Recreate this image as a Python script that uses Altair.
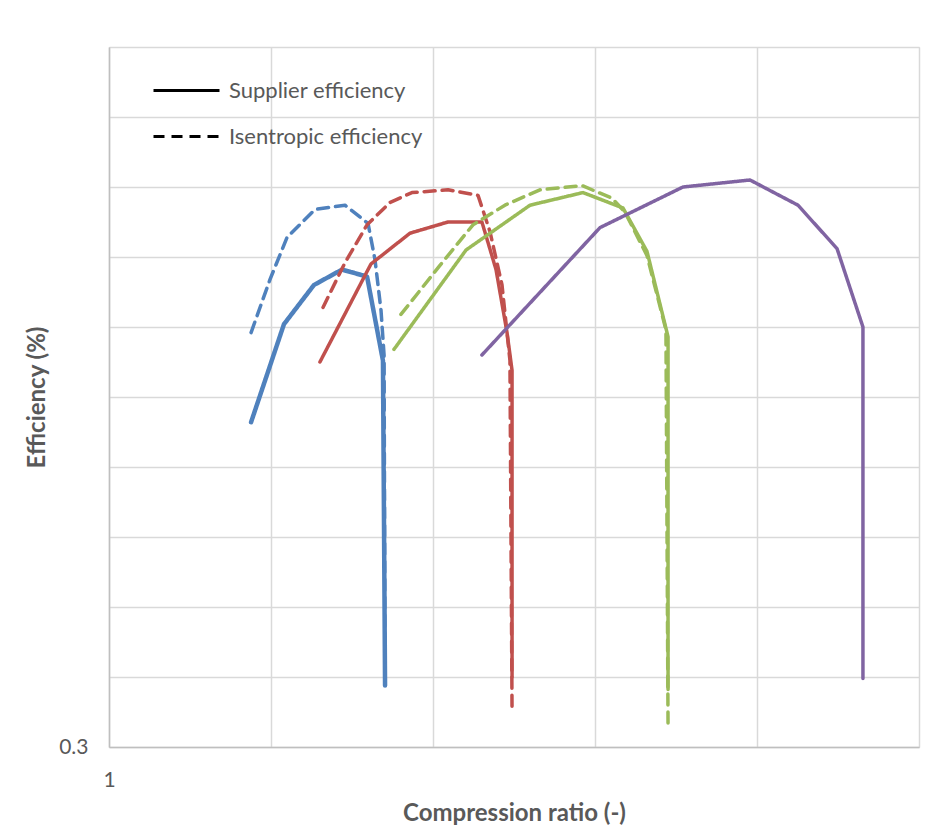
import altair as alt
import pandas as pd

# ---- data (compression ratio, efficiency) ----
blue_sup_x = [1.877, 2.080, 2.265, 2.438, 2.593, 2.691, 2.704]
blue_sup_y = [0.532, 0.602, 0.630, 0.641, 0.636, 0.576, 0.344]
blue_ise_x = [1.877, 1.994, 2.099, 2.272, 2.457, 2.599, 2.642, 2.679, 2.698, 2.704]
blue_ise_y = [0.596, 0.634, 0.664, 0.684, 0.687, 0.674, 0.648, 0.612, 0.580, 0.344]

red_sup_x = [2.302, 2.617, 2.858, 3.093, 3.302, 3.389, 3.457, 3.488, 3.488]
red_sup_y = [0.575, 0.645, 0.667, 0.675, 0.675, 0.641, 0.596, 0.569, 0.350]
red_ise_x = [2.321, 2.457, 2.593, 2.735, 2.870, 3.093, 3.278, 3.352, 3.426, 3.475, 3.488]
red_ise_y = [0.614, 0.646, 0.673, 0.689, 0.696, 0.698, 0.694, 0.668, 0.630, 0.576, 0.325]

green_sup_x = [2.759, 3.204, 3.599, 3.926, 4.173, 4.321, 4.451, 4.451]
green_sup_y = [0.584, 0.655, 0.687, 0.696, 0.685, 0.654, 0.593, 0.341]
green_ise_x = [2.802, 3.043, 3.247, 3.444, 3.660, 3.920, 4.105, 4.185, 4.321, 4.438, 4.451]
green_ise_y = [0.609, 0.644, 0.673, 0.687, 0.698, 0.701, 0.692, 0.682, 0.651, 0.598, 0.314]

purple_sup_x = [3.302, 4.031, 4.543, 4.957, 5.253, 5.494, 5.654, 5.654]
purple_sup_y = [0.580, 0.671, 0.700, 0.705, 0.687, 0.656, 0.600, 0.349]

series_names = ["Blue", "Red", "Green", "Purple"]
series_colors = ["#4F81BD", "#C0504D", "#9BBB59", "#8064A2"]
kind_names = ["Supplier efficiency", "Isentropic efficiency"]
x_ticks = [1, 2, 3, 4, 5, 6]
y_ticks = [0.3, 0.35, 0.4, 0.45, 0.5, 0.55, 0.6, 0.65, 0.7, 0.75, 0.8]

curves = [
    ("Blue", kind_names[0], blue_sup_x, blue_sup_y),
    ("Blue", kind_names[1], blue_ise_x, blue_ise_y),
    ("Red", kind_names[0], red_sup_x, red_sup_y),
    ("Red", kind_names[1], red_ise_x, red_ise_y),
    ("Green", kind_names[0], green_sup_x, green_sup_y),
    ("Green", kind_names[1], green_ise_x, green_ise_y),
    ("Purple", kind_names[0], purple_sup_x, purple_sup_y),
]
rows = []
for s, k, xs, ys in curves:
    for i, (xv, yv) in enumerate(zip(xs, ys)):
        rows.append({"series": s, "kind": k, "curve": s + "-" + k, "i": i,
                     "ratio": xv, "eff": yv,
                     "w": 4.5 if (s == "Blue" and k == kind_names[0]) else 3.5})
df = pd.DataFrame(rows)

FONT = "Lato"
GREY = "#595959"
GRID = "#d9d9d9"

chart = alt.Chart(df).mark_line(strokeCap="round", strokeJoin="round").encode(
    x=alt.X("ratio:Q", scale=alt.Scale(domain=[1, 6], nice=False, zero=False),
            axis=alt.Axis(title="Compression ratio (-)", values=x_ticks,
                          labelExpr="datum.value == 1 ? '1' : ''",
                          labelFlush=False,
                          ticks=False, domainColor="#bfbfbf", domainWidth=1.5,
                          gridColor=GRID, gridWidth=1.5,
                          labelFont=FONT, labelFontSize=21, labelColor=GREY,
                          labelPadding=22, titleFont=FONT, titleFontSize=24,
                          titleFontWeight="bold", titleColor=GREY, titlePadding=11)),
    y=alt.Y("eff:Q", scale=alt.Scale(domain=[0.3, 0.8], nice=False, zero=False),
            axis=alt.Axis(title="Efficiency (%)", values=y_ticks,
                          labelExpr="abs(datum.value - 0.3) < 1e-6 ? '0.3' : ''",
                          labelFlush=False,
                          ticks=False, domainColor="#bfbfbf", domainWidth=1.5,
                          gridColor=GRID, gridWidth=1.5,
                          labelFont=FONT, labelFontSize=21, labelColor=GREY,
                          labelPadding=21, titleFont=FONT, titleFontSize=24,
                          titleFontWeight="bold", titleColor=GREY, titlePadding=9)),
    color=alt.Color("series:N", scale=alt.Scale(domain=series_names, range=series_colors),
                    legend=None),
    strokeDash=alt.StrokeDash("kind:N",
                              scale=alt.Scale(domain=kind_names, range=[[1, 0], [11, 7]]),
                              legend=alt.Legend(title=None, orient="none", legendX=43, legendY=9,
                                                symbolType="stroke", symbolStrokeColor="black",
                                                symbolStrokeWidth=3, symbolSize=4356,
                                                labelFont=FONT, labelFontSize=22, labelColor=GREY,
                                                labelLimit=400, labelOffset=8, rowPadding=-2)),
    strokeWidth=alt.StrokeWidth("w:Q", scale=None, legend=None),
    detail="curve:N",
    order="i:Q",
).properties(
    width=810, height=700,
    autosize=alt.AutoSizeParams(type="none"),
    padding={"left": 101, "top": 39, "right": 5, "bottom": 80},
).configure_view(stroke=None).configure(background="white")

chart.save("out.html", embed_options={"renderer": "svg", "actions": False})
